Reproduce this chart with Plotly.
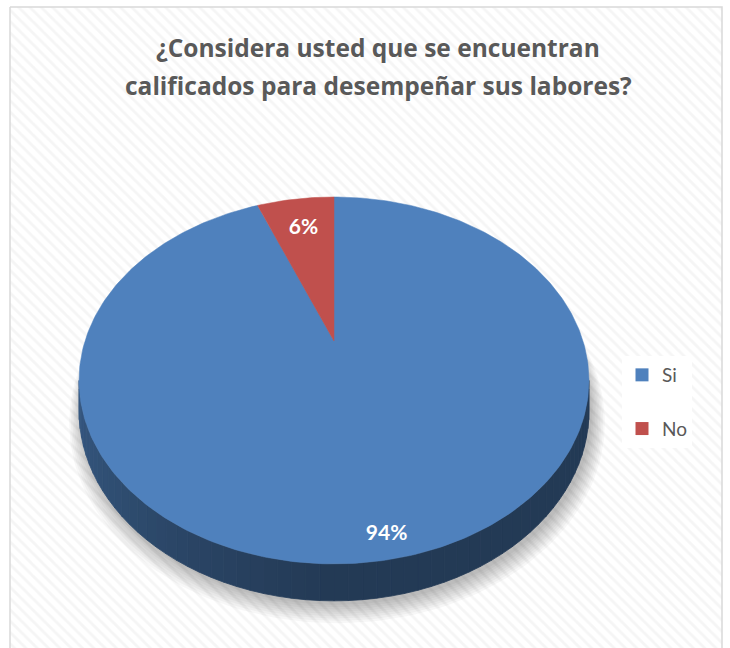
import numpy as np
import plotly.graph_objects as go

# ---- data ----
categories = ["Si", "No"]
values = [94, 6]
title_lines = ["¿Considera usted que se encuentran", "calificados para desempeñar sus labores?"]

# ---- style ----
slice_colors = ["#4f81bd", "#c0504d"]
label_radius = [0.91, 0.76]
W, H = 730, 648
CX, CY, A, B, K, D = 334, 341, 249, 175, 0.215, 29
FONT = "Lato"
TITLE_FONT = "Open Sans"
GRAY = "#595959"


def proj(phi_deg, r=1.0):
    phi = np.radians(phi_deg)
    u = r * np.sin(phi)
    v = -r * np.cos(phi)
    w = 1 - K * v
    return CX + A * u / w, CY + B * v / w, w


def shade(hex_color, f):
    h = hex_color.lstrip("#")
    r, g, b = (int(h[i:i + 2], 16) for i in (0, 2, 4))
    return "rgb(%d,%d,%d)" % (r * f, g * f, b * f)


total = sum(values)
bounds = np.concatenate([[0], np.cumsum(values) / total * 360])

fig = go.Figure()

# background frame with diagonal pattern
fig.add_trace(go.Scatter(
    x=[10, 722, 722, 10, 10], y=[7, 7, 660, 660, 7], mode="lines",
    fill="toself", fillcolor="white",
    fillpattern=dict(shape="\\", fgcolor="#ebebeb", bgcolor="white", size=8, solidity=0.35),
    line=dict(color="#d9d9d9", width=1.5), hoverinfo="skip", showlegend=False))

# soft shadow
ang = np.linspace(0, 360, 241)
for j in range(9):
    xs, ys, ws = proj(ang, 1.0 + j * 0.006)
    fig.add_trace(go.Scatter(
        x=xs + 3, y=ys + D / ws + 4 + j * 0.5, mode="lines", fill="toself",
        fillcolor="rgba(0,0,0,0.03)", line=dict(width=0), hoverinfo="skip", showlegend=False))

# side wall (front half)
phi_r = np.degrees(np.arccos(-K))
phi_l = 360 - phi_r
edges = np.linspace(phi_r, phi_l, 61)
for i in range(len(edges) - 1):
    p0, p1 = edges[i], edges[i + 1]
    mid = (p0 + p1) / 2
    idx = int(np.searchsorted(bounds, mid, side="right") - 1)
    idx = min(max(idx, 0), len(values) - 1)
    t = (mid - phi_r) / (phi_l - phi_r)
    f = 0.45 + 0.24 * max(0.0, t - 0.5) * 2
    x0, y0, w0 = proj(p0)
    x1, y1, w1 = proj(p1)
    col = shade(slice_colors[idx], f)
    fig.add_trace(go.Scatter(
        x=[x0, x1, x1, x0, x0], y=[y0, y1, y1 + D / w1, y0 + D / w0, y0],
        mode="lines", fill="toself", fillcolor=col, line=dict(color=col, width=0.8),
        hoverinfo="skip", showlegend=False))

# top face slices
for i, cat in enumerate(categories):
    arc = np.linspace(bounds[i], bounds[i + 1], max(int(values[i] * 4), 8))
    xs, ys, _ = proj(arc)
    fig.add_trace(go.Scatter(
        x=np.concatenate([[CX], xs, [CX]]), y=np.concatenate([[CY], ys, [CY]]),
        mode="lines", fill="toself", fillcolor=slice_colors[i],
        line=dict(color=slice_colors[i], width=0.5), hoverinfo="skip", showlegend=False))

# data labels
lx, ly, lt = [], [], []
for i, v in enumerate(values):
    mid = (bounds[i] + bounds[i + 1]) / 2
    x, y, _ = proj(mid, label_radius[i])
    lx.append(x)
    ly.append(y)
    lt.append("<b>%d%%</b>" % round(v / total * 100))
fig.add_trace(go.Scatter(x=lx, y=ly, text=lt, mode="text",
                         textfont=dict(family=FONT, size=21, color="white"),
                         hoverinfo="skip", showlegend=False))

# legend entries
for i, cat in enumerate(categories):
    fig.add_trace(go.Scatter(x=[None], y=[None], mode="markers", name=cat,
                             legendgroup=cat,
                             marker=dict(symbol="square", size=13, color=slice_colors[i])))

# title
for j, line in enumerate(title_lines):
    fig.add_annotation(x=378, y=47 + 38 * j, xref="x", yref="y", text="<b>%s</b>" % line,
                       showarrow=False, font=dict(family=TITLE_FONT, size=24.5, color=GRAY),
                       xanchor="center", yanchor="middle")

fig.update_layout(
    width=W, height=H, autosize=False,
    margin=dict(l=0, r=0, t=0, b=0),
    paper_bgcolor="white", plot_bgcolor="white",
    xaxis=dict(range=[0, W], visible=False, fixedrange=True),
    yaxis=dict(range=[H, 0], visible=False, fixedrange=True),
    legend=dict(x=622 / W, y=1 - 356 / H, xanchor="left", yanchor="top",
                bgcolor="white", font=dict(family=FONT, size=19, color=GRAY),
                tracegroupgap=26, itemclick=False, itemdoubleclick=False),
)

fig.write_html("out.html")
